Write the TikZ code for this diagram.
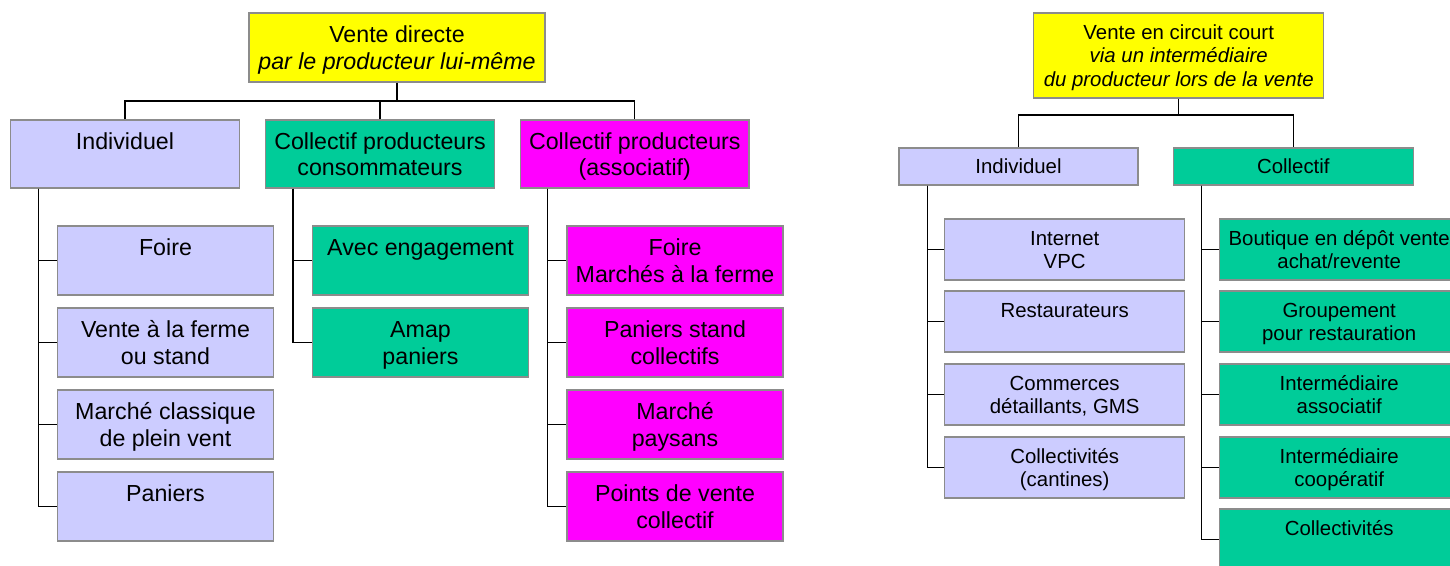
\documentclass[tikz,border=0pt]{standalone}
\usepackage{fontspec}
\setmainfont{Liberation Sans}
\usetikzlibrary{calc}
\definecolor{lav}{HTML}{CCCCFF}
\definecolor{grn}{HTML}{00CC99}
\definecolor{mag}{HTML}{FF00FF}
\definecolor{yel}{HTML}{FFFF00}
\definecolor{bord}{HTML}{8C8C8C}
\newcommand\mystrut{\rule[-.185\baselineskip]{0pt}{\baselineskip}}
\newcommand\myone[1]{#1\mystrut}
\newcommand\mytwo[2]{#1\mystrut\\#2\mystrut}
\newcommand\mythree[3]{#1\mystrut\\#2\mystrut\\#3\mystrut}
\begin{document}
\begin{tikzpicture}[x=1pt,y=-1pt,
  box/.style={draw=bord, line width=1.2pt, inner sep=0pt, align=center, anchor=center},
  bigtxt/.style={font=\fontsize{23.2}{26.7}\selectfont},
  smalltxt/.style={font=\fontsize{20.4}{23.6}\selectfont},
  lbox/.style={box, bigtxt, minimum width=216pt, minimum height=69pt},
  hbox/.style={box, bigtxt, minimum width=228.5pt, minimum height=68pt},
  rbox/.style={box, smalltxt, minimum width=240pt, minimum height=61pt},
  rhbox/.style={box, smalltxt, minimum width=240pt, minimum height=37pt},
  link/.style={line width=1.2pt, black}]
\useasboundingbox[fill=white] (0,0) rectangle (1450,565);

% ---------- left tree ----------
\node[box, bigtxt, fill=yel, minimum width=296pt, minimum height=69pt] (vd) at (397,47.5)
  {\mytwo{Vente directe}{\textit{par le producteur lui-même}}};
\node[hbox, fill=lav] (h1) at (125,154) {\mytwo{Individuel}{}};
\node[hbox, fill=grn] (h2) at (380,154) {\mytwo{Collectif producteurs}{consommateurs}};
\node[hbox, fill=mag] (h3) at (634.8,154) {\mytwo{Collectif producteurs}{(associatif)}};

\node[lbox, fill=lav] (a1) at (165.5,260.5) {\mytwo{Foire}{}};
\node[lbox, fill=lav] (a2) at (165.5,342.5) {\mytwo{Vente à la ferme}{ou stand}};
\node[lbox, fill=lav] (a3) at (165.5,424.5) {\mytwo{Marché classique}{de plein vent}};
\node[lbox, fill=lav] (a4) at (165.5,506.5) {\mytwo{Paniers}{}};

\node[lbox, fill=grn] (b1) at (420.5,260.5) {\mytwo{Avec engagement}{}};
\node[lbox, fill=grn] (b2) at (420.5,342.5) {\mytwo{Amap}{paniers}};

\node[lbox, fill=mag] (m1) at (675,260.5) {\mytwo{Foire}{Marchés à la ferme}};
\node[lbox, fill=mag] (m2) at (675,342.5) {\mytwo{Paniers stand}{collectifs}};
\node[lbox, fill=mag] (m3) at (675,424.5) {\mytwo{Marché}{paysans}};
\node[lbox, fill=mag] (m4) at (675,506.5) {\mytwo{Points de vente}{collectif}};

\coordinate (busL) at (0,101);
\draw[link] (vd.south) -- (vd.south |- busL);
\draw[link] (h1.north) -- (h1.north |- busL) -- (h3.north |- busL) -- (h3.north);
\draw[link] (h2.north) -- (h2.north |- busL);

\coordinate (t1) at ($(h1.south west)+(28,0)$);
\coordinate (t2) at ($(h2.south west)+(27.8,0)$);
\coordinate (t3) at ($(h3.south west)+(27.8,0)$);
\foreach \n in {a1,a2,a3,a4} \draw[link] (t1) |- (\n.west);
\foreach \n in {b1,b2} \draw[link] (t2) |- (\n.west);
\foreach \n in {m1,m2,m3,m4} \draw[link] (t3) |- (\n.west);

% ---------- right tree ----------
\node[box, smalltxt, fill=yel, minimum width=290pt, minimum height=85pt] (vc) at (1178.7,55.5)
  {\mythree{Vente en circuit court}{\textit{via un intermédiaire}}{\textit{du producteur lors de la vente}}};
\node[rhbox, fill=lav, minimum width=239pt] (i2) at (1018.5,166.5) {\myone{Individuel}};
\node[rhbox, fill=grn] (c2) at (1293.3,166.5) {\myone{Collectif}};

\node[rbox, fill=lav] (r1) at (1064.7,249.5) {\mytwo{Internet}{VPC}};
\node[rbox, fill=lav] (r2) at (1064.7,321.5) {\mytwo{Restaurateurs}{}};
\node[rbox, fill=lav] (r3) at (1064.7,394.5) {\mytwo{Commerces}{détaillants, GMS}};
\node[rbox, fill=lav] (r4) at (1064.7,467.5) {\mytwo{Collectivités}{(cantines)}};

\node[rbox, fill=grn] (s1) at (1339.2,249.5) {\mytwo{Boutique en dépôt vente}{achat/revente}};
\node[rbox, fill=grn] (s2) at (1339.2,321.5) {\mytwo{Groupement}{pour restauration}};
\node[rbox, fill=grn] (s3) at (1339.2,394.5) {\mytwo{Intermédiaire}{associatif}};
\node[rbox, fill=grn] (s4) at (1339.2,467.5) {\mytwo{Intermédiaire}{coopératif}};
\node[rbox, fill=grn] (s5) at (1339.2,539.5) {\mytwo{Collectivités}{}};

\coordinate (busR) at (0,115);
\draw[link] (vc.south) -- (vc.south |- busR);
\draw[link] (i2.north) -- (i2.north |- busR) -- (c2.north |- busR) -- (c2.north);

\coordinate (u1) at ($(i2.south west)+(29,0)$);
\coordinate (u2) at ($(c2.south west)+(28.6,0)$);
\foreach \n in {r1,r2,r3,r4} \draw[link] (u1) |- (\n.west);
\foreach \n in {s1,s2,s3,s4,s5} \draw[link] (u2) |- (\n.west);
\end{tikzpicture}
\end{document}
